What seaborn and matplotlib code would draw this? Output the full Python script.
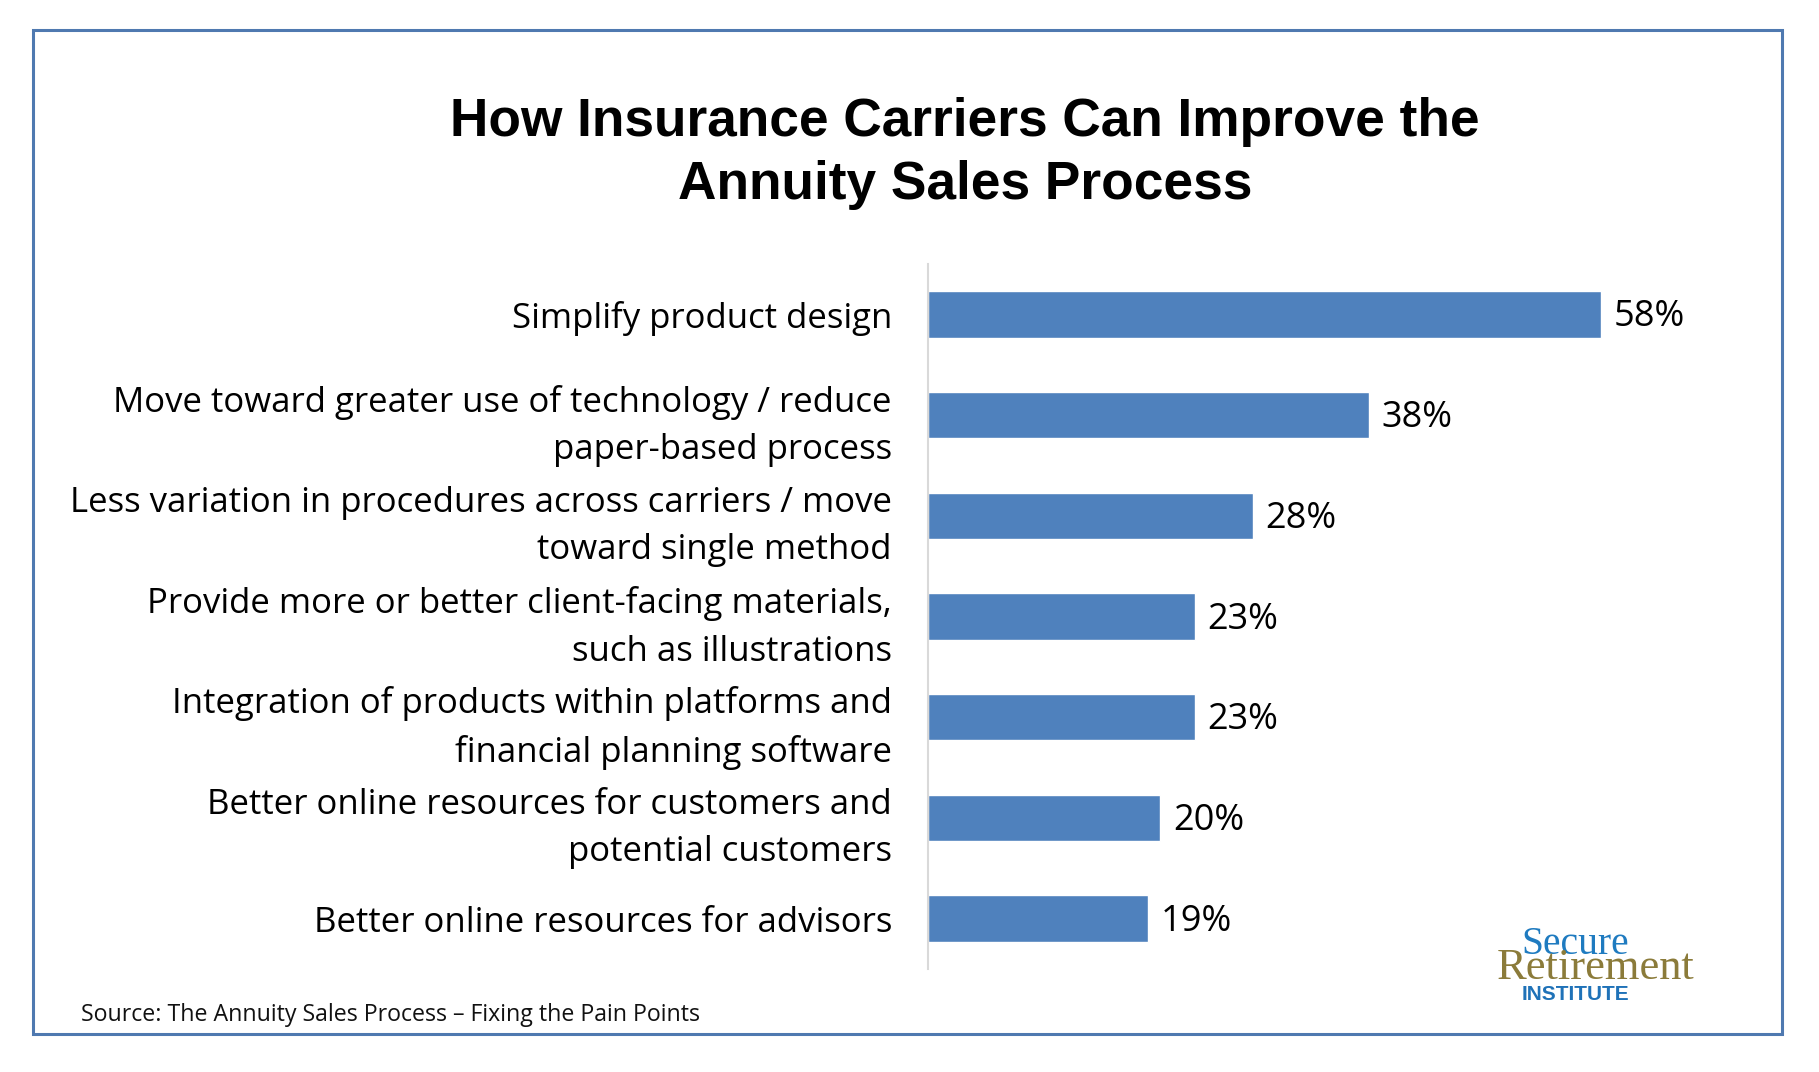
import matplotlib
matplotlib.use('Agg')
import matplotlib.pyplot as plt
import seaborn as sns
import pandas as pd
from matplotlib.patches import Rectangle

# data
labels = [
    'Simplify product design',
    'Move toward greater use of technology / reduce\npaper-based process',
    'Less variation in procedures across carriers / move\ntoward single method',
    'Provide more or better client-facing materials,\nsuch as illustrations',
    'Integration of products within platforms and\nfinancial planning software',
    'Better online resources for customers and\npotential customers',
    'Better online resources for advisors',
]
values = [58, 38, 28, 23, 23, 20, 19]
value_text = ['58%', '38%', '28%', '23%', '23%', '20%', '19%']

title = 'How Insurance Carriers Can Improve the\nAnnuity Sales Process'
source = 'Source: The Annuity Sales Process \u2013 Fixing the Pain Points'

bar_color = '#4F81BD'
label_font = 'Open Sans'

sns.set_style('white')
plt.rcParams['font.family'] = [label_font, 'DejaVu Sans']
plt.rcParams['text.color'] = 'black'

df = pd.DataFrame({'label': labels, 'value': values})

fig = plt.figure(figsize=(18.19, 10.72), dpi=100)
ax = fig.add_axes([0.5102, 0.0961, 0.3826, 0.6576])

sns.barplot(data=df, x='value', y='label', orient='h', color=bar_color,
            width=0.46, saturation=1, ax=ax)

ax.set_xlim(0, 60)
ax.set_ylim(6.5, -0.5)
ax.set_xlabel('')
ax.set_ylabel('')
ax.set_xticks([])
for s in ['top', 'right', 'bottom']:
    ax.spines[s].set_visible(False)
ax.spines['left'].set_color('#D9D9D9')
ax.spines['left'].set_linewidth(1.5)
ax.tick_params(axis='y', length=0, pad=26, labelsize=25)
for t in ax.get_yticklabels():
    t.set_horizontalalignment('right')
    t.set_linespacing(1.52)
    t.set_color('black')

for i, (v, s) in enumerate(zip(values, value_text)):
    ax.text(v + 1.1, i + 0.03, s, va='center', ha='left', fontsize=26,
            color='black')

fig.text(0.5305, 0.857, title, ha='center', va='center', fontsize=38.3,
         fontweight='bold', family='Liberation Sans', linespacing=1.33,
         color='black')

fig.text(0.0445, 0.053, source, ha='left', va='center', fontsize=16.7,
         color='#111111')

# logo text
fig.text(0.866, 0.1105, 'Secure', ha='center', va='baseline', fontsize=28.5,
         family='Liberation Serif', color='#1F7BC0')
fig.text(0.877, 0.0865, 'Retirement', ha='center', va='baseline', fontsize=32,
         family='Liberation Serif', color='#8B7B3A')
fig.text(0.866, 0.067, 'INSTITUTE', ha='center', va='baseline', fontsize=15,
         family='Liberation Sans', fontweight='bold', color='#1F72B8')

# frame
fig.patches.append(Rectangle((0.0181, 0.0354), 0.9616, 0.9366,
                             transform=fig.transFigure, fill=False,
                             edgecolor='#4F79B0', linewidth=2.2))

fig.savefig('out.png', dpi=100, facecolor='white')
